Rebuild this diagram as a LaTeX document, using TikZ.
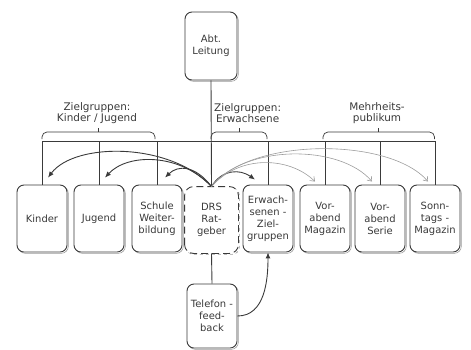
\documentclass[tikz,border=0pt]{standalone}
\usepackage{fontspec}
\setmainfont{DejaVu Sans}
\usetikzlibrary{arrows.meta,calc,positioning,shadows}
\definecolor{ScanInk}{HTML}{3A3A3A}
\definecolor{ScanGrey}{HTML}{9C9C9C}

\begin{document}
\begin{tikzpicture}[x=1bp,y=1bp,font=\fontsize{10}{12}\selectfont,text=ScanInk,
    box/.style={draw=ScanInk,line width=0.9pt,fill=white,rounded corners=7pt,
      minimum width=50bp,minimum height=67bp,align=center,inner sep=1pt,
      copy shadow={shadow xshift=1.3pt,shadow yshift=-1.3pt,draw=ScanGrey,fill=white,line width=0.6pt}},
    grouplabel/.style={align=center,font=\fontsize{10.5}{11}\selectfont},
    wire/.style={draw=ScanInk,line width=0.9pt},
    darkarrow/.style={draw=ScanInk,line width=0.9pt,-{Latex[length=6pt,width=5pt]}},
    lightarrow/.style={draw=ScanGrey,line width=0.6pt,-{Straight Barb[length=4pt,width=6pt]}}]
  \useasboundingbox (0,0) rectangle (471,349);

  % Leitung oben
  \node[box,minimum width=52bp,minimum height=68bp] (abt) at (211,303) {Abt.\\Leitung};

  % Sendungen unten
  \node[box] (kin) at (42,130.5) {Kinder};
  \node[box] (jug) at (99,130.5) {Jugend};
  \node[box] (sch) at (157,130.5) {Schule\\Weiter-\\bildung};
  \node[box,draw=none,copy shadow={draw=none,fill=none},dashed,minimum width=53bp,minimum height=66bp] (drs) at (211.5,129) {DRS\\Rat-\\geber};
  \draw[ScanInk,line width=0.9pt,dash pattern=on 7pt off 4pt,rounded corners=9pt] (drs.south west) rectangle (drs.north east);
  \node[box] (erw) at (268,130.5) {Erwach-\\senen -\\Ziel-\\gruppen};
  \node[box] (vma) at (325,130.5) {Vor-\\abend\\Magazin};
  \node[box] (vse) at (380,130.5) {Vor-\\abend\\Serie};
  \node[box] (son) at (435,130.5) {Sonn-\\tags -\\Magazin};
  \node[box,minimum height=64bp] (tel) at (212,33) {Telefon -\\feed-\\back};

  % Gruppen
  \node[grouplabel] (lblkj) at (97,236) {Zielgruppen:\\Kinder / Jugend};
  \node[grouplabel,anchor=west,inner sep=0pt] (lblerw) at (214,236) {Zielgruppen:\\Erwachsene};
  \node[grouplabel] (lblmehr) at (377,236) {Mehrheits-\\publikum};

  \coordinate (busL) at (kin.north |- 0,208);
  \coordinate (busR) at (son.north |- 0,208);
  \draw[wire] (busL) -- (busR);
  \draw[wire] (abt.south) -- (drs.north);
  \foreach \n in {kin,jug,sch,erw,vma,vse,son}
    \draw[wire] (\n.north |- busL) -- (\n.north);
  \draw[wire] (drs.south) -- (tel.north);

  \foreach \a/\b in {42/155,211/267,323/434.5}{
    \draw[wire,line width=0.7pt,rounded corners=5bp] (\a,210) -- (\a,217) -- (\b,217) -- (\b,210);
    \draw[wire,line width=0.7pt] ({(\a+\b)/2},217) -- ({(\a+\b)/2},221);
  }

  % Querverweise
  \draw[darkarrow] (drs.north) .. controls (170,207) and (75,207) .. ($(kin.north)+(6,7)$);
  \draw[darkarrow] (drs.north) .. controls (180,196) and (128,196) .. ($(jug.north)+(6,7)$);
  \draw[darkarrow] (drs.north) .. controls (195,184) and (178,184) .. ($(sch.north)+(8,7)$);
  \draw[darkarrow] (drs.north) .. controls (222,180) and (240,180) .. ($(erw.north)+(-13,5)$);
  \draw[lightarrow] (drs.north) .. controls (240,195) and (290,192) .. ($(vma.north)+(-10,3)$);
  \draw[lightarrow] (drs.north) .. controls (245,205) and (340,205) .. ($(vse.north)+(-8,3)$);
  \draw[lightarrow] (drs.north) .. controls (250,212) and (390,212) .. ($(son.north)+(-7,3)$);
  \draw[darkarrow] (tel.east) to[out=0,in=-90] (erw.south);
\end{tikzpicture}
\end{document}
